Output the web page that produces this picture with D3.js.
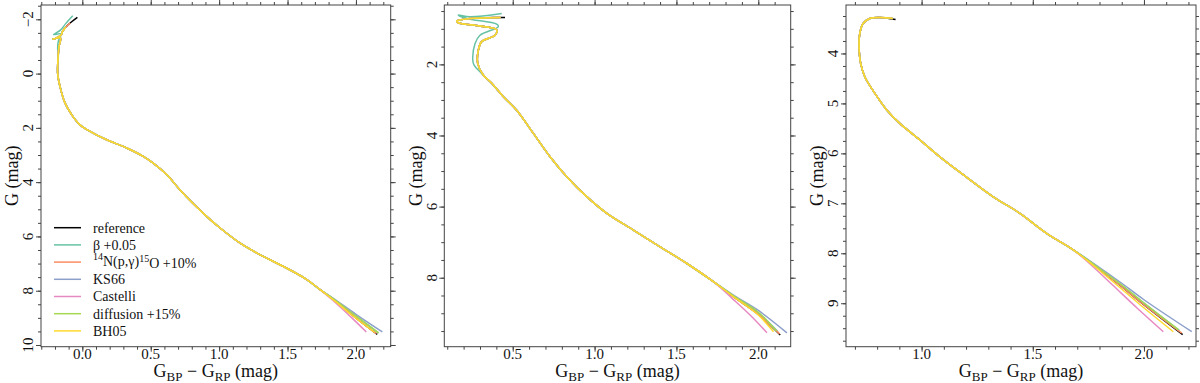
<!DOCTYPE html>
<html><head><meta charset="utf-8">
<script src="https://cdn.jsdelivr.net/npm/d3@7"></script>
<style>
html,body{margin:0;padding:0;background:#fff;}
svg{display:block;}
svg text{font-family:"Times New Roman",Times,"Liberation Serif","Nimbus Roman","DejaVu Serif","Noto Serif",serif;}
</style></head>
<body><svg id="chart" width="1200" height="383"></svg>
<script>
// ---------------- DATA ----------------
const seriesNames = ["reference","beta","n14","KS66","Castelli","diffusion","BH05"];
const seriesColors = ["#000000","#66c2a5","#fc8d62","#8da0cb","#e78ac3","#a6d854","#ffd92f"];

// Panel 1 (x: G_BP-G_RP, y: G)
const p1HeadRef = [[-0.036,-2.07],[-0.08,-1.9],[-0.12,-1.72],[-0.145,-1.55],[-0.155,-1.42],[-0.2,-1.29],[-0.215,-1.27],[-0.16,-1.31],[-0.17,-1.0]];
const p1HeadBeta = [[-0.07,-2.13],[-0.12,-1.85],[-0.16,-1.6],[-0.21,-1.44],[-0.155,-1.46],[-0.175,-1.2],[-0.18,-0.9]];
const p1HeadN14 = [[-0.088,-1.86],[-0.12,-1.72],[-0.145,-1.55],[-0.155,-1.42],[-0.2,-1.29],[-0.215,-1.27],[-0.16,-1.31],[-0.17,-1.0]];
const p1HeadOther = [[-0.12,-1.72],[-0.145,-1.55],[-0.155,-1.42],[-0.2,-1.29],[-0.215,-1.27],[-0.16,-1.31],[-0.17,-1.0]];
const p1Body = [[-0.175,-0.75],[-0.18,0.0],[-0.163,0.48],[-0.126,1.09],[-0.077,1.52],[-0.017,1.89],[0.056,2.13],[0.178,2.44],[0.324,2.74],[0.445,3.05],[0.518,3.30],[0.616,3.72],[0.713,4.28],[0.81,4.79],[0.908,5.26],[1.005,5.68],[1.151,6.24],[1.297,6.67],[1.467,7.10],[1.638,7.58],[1.735,7.95]];
const p1TailRef = [[1.835,8.32],[1.99,8.97],[2.156,9.61]];
const p1TailBeta = [[1.837,8.31],[2.0,8.93],[2.165,9.55]];
const p1TailN14 = [[1.835,8.32],[1.99,8.97],[2.15,9.58]];
const p1TailKS66 = [[1.84,8.30],[2.0,8.87],[2.193,9.52]];
const p1TailCastelli = [[1.83,8.35],[1.97,9.0],[2.076,9.52]];
const p1TailDiffusion = [[1.838,8.31],[2.0,8.93],[2.165,9.55]];
const p1TailBH05 = [[1.832,8.33],[1.978,8.93],[2.137,9.54]];

// Panel 2
const p2HeadRef = [[0.453,0.68],[0.402,0.68],[0.239,0.71],[0.158,0.78],[0.167,0.83],[0.3,0.92],[0.402,1.03],[0.392,1.18],[0.31,1.36],[0.29,1.6],[0.286,1.97],[0.32,2.3],[0.372,2.53],[0.443,2.91]];
const p2HeadBeta = [[0.433,0.57],[0.239,0.66],[0.167,0.61],[0.219,0.71],[0.402,0.87],[0.412,0.94],[0.3,1.18],[0.27,1.41],[0.256,1.88],[0.264,2.02],[0.3,2.21],[0.361,2.49],[0.443,2.91]];
const p2HeadOther = [[0.425,0.68],[0.239,0.71],[0.158,0.78],[0.167,0.83],[0.3,0.92],[0.402,1.03],[0.392,1.18],[0.31,1.36],[0.29,1.6],[0.286,1.97],[0.32,2.3],[0.372,2.53],[0.443,2.91]];
const p2Body = [[0.524,3.29],[0.626,3.94],[0.728,4.6],[0.83,5.16],[0.952,5.72],[1.075,6.19],[1.237,6.66],[1.4,7.13],[1.564,7.6],[1.726,8.11]];
const p2TailRef = [[1.849,8.54],[2.0,9.03],[2.134,9.61]];
const p2TailBeta = [[1.852,8.53],[2.0,8.99],[2.12,9.52]];
const p2TailN14 = [[1.849,8.54],[2.0,9.03],[2.13,9.58]];
const p2TailKS66 = [[1.855,8.51],[2.0,8.92],[2.175,9.55]];
const p2TailCastelli = [[1.84,8.58],[1.95,9.05],[2.053,9.55]];
const p2TailDiffusion = [[1.852,8.52],[2.0,8.97],[2.11,9.50]];
const p2TailBH05 = [[1.849,8.54],[2.0,9.05],[2.093,9.52]];

// Panel 3
const p3HeadRef = [[0.883,3.32],[0.812,3.28]];
const p3HeadOther = [[0.87,3.3],[0.812,3.28]];
const p3Body = [[0.767,3.3],[0.737,3.4],[0.722,3.6],[0.719,3.87],[0.726,4.2],[0.745,4.47],[0.79,4.8],[0.843,5.13],[0.902,5.4],[0.992,5.73],[1.082,6.07],[1.2,6.47],[1.322,6.87],[1.442,7.2],[1.562,7.6],[1.682,7.93]];
const p3TailRef = [[1.772,8.23],[1.892,8.64],[1.982,8.97],[2.174,9.63]];
const p3TailBeta = [[1.774,8.22],[1.895,8.62],[1.99,8.96],[2.16,9.55]];
const p3TailN14 = [[1.772,8.23],[1.892,8.64],[1.982,8.97],[2.17,9.60]];
const p3TailKS66 = [[1.776,8.21],[1.90,8.60],[2.0,8.93],[2.215,9.57]];
const p3TailCastelli = [[1.766,8.25],[1.86,8.64],[1.97,9.10],[2.087,9.57]];
const p3TailDiffusion = [[1.774,8.22],[1.895,8.62],[1.99,8.96],[2.154,9.53]];
const p3TailBH05 = [[1.771,8.24],[1.885,8.66],[1.98,9.02],[2.132,9.57]];

// Tick labels
const p1XTicks = [0.0,0.5,1.0,1.5,2.0];
const p1YTicks = [-2,0,2,4,6,8,10];
const p2XTicks = [0.5,1.0,1.5,2.0];
const p2YTicks = [2,4,6,8];
const p3XTicks = [1.0,1.5,2.0];
const p3YTicks = [4,5,6,7,8,9];

// -------------- ASSEMBLY --------------
const panelSeries = [
  [p1HeadRef.concat(p1Body,p1TailRef), p1HeadBeta.concat(p1Body,p1TailBeta), p1HeadN14.concat(p1Body,p1TailN14),
   p1HeadOther.concat(p1Body,p1TailKS66), p1HeadOther.concat(p1Body,p1TailCastelli), p1HeadOther.concat(p1Body,p1TailDiffusion), p1HeadOther.concat(p1Body,p1TailBH05)],
  [p2HeadRef.concat(p2Body,p2TailRef), p2HeadBeta.concat(p2Body,p2TailBeta), p2HeadOther.concat(p2Body,p2TailN14),
   p2HeadOther.concat(p2Body,p2TailKS66), p2HeadOther.concat(p2Body,p2TailCastelli), p2HeadOther.concat(p2Body,p2TailDiffusion), p2HeadOther.concat(p2Body,p2TailBH05)],
  [p3HeadRef.concat(p3Body,p3TailRef), p3HeadOther.concat(p3Body,p3TailBeta), p3HeadOther.concat(p3Body,p3TailN14),
   p3HeadOther.concat(p3Body,p3TailKS66), p3HeadOther.concat(p3Body,p3TailCastelli), p3HeadOther.concat(p3Body,p3TailDiffusion), p3HeadOther.concat(p3Body,p3TailBH05)]
];

const panels = [
  {box:[41,5,390.7,346.7], xd:[-0.302,2.254], yd:[-2.527,10.063], xt:p1XTicks, yt:p1YTicks, xminor:0.1, yminor:0.5, legend:true},
  {box:[444.3,5,790.7,346.7], xd:[0.082,2.198], yd:[0.33,9.94], xt:p2XTicks, yt:p2YTicks, xminor:0.1, yminor:0.5},
  {box:[846,5,1196,346.7], xd:[0.66,2.234], yd:[3.03,9.87], xt:p3XTicks, yt:p3YTicks, xminor:0.1, yminor:0.25}
];

const FONT = "'Times New Roman', Times, 'Liberation Serif', 'Nimbus Roman', 'DejaVu Serif', 'Noto Serif', serif";
const svg = d3.select("#chart");
const fmtY = v => (v<0?"\u2212":"") + Math.abs(v);

function minorVals(d, step){
  const out=[]; const s=Math.ceil(Math.min(d[0],d[1])/step-1e-9);
  for(let k=s; k*step<=Math.max(d[0],d[1])+1e-9; k++) out.push(+(k*step).toFixed(4));
  return out;
}

panels.forEach((p,i)=>{
  const [x0,y0,x1,y1]=p.box;
  const x=d3.scaleLinear().domain(p.xd).range([x0,x1]);
  const y=d3.scaleLinear().domain(p.yd).range([y0,y1]);
  const g=svg.append("g");
  const xm=minorVals(p.xd,p.xminor), ym=minorVals(p.yd,p.yminor);
  const tickStyle = sel => { sel.select(".domain").remove(); sel.selectAll("line").attr("stroke","#444").attr("stroke-width",1); sel.selectAll("text").remove(); sel.attr("font-family",null); };
  g.append("g").attr("transform",`translate(0,${y1})`).call(d3.axisBottom(x).tickValues(xm).tickSize(3)).call(tickStyle);
  g.append("g").attr("transform",`translate(0,${y1})`).call(d3.axisBottom(x).tickValues(p.xt).tickSize(5)).call(tickStyle);
  g.append("g").attr("transform",`translate(0,${y0})`).call(d3.axisTop(x).tickValues(xm).tickSize(3)).call(tickStyle);
  g.append("g").attr("transform",`translate(0,${y0})`).call(d3.axisTop(x).tickValues(p.xt).tickSize(5)).call(tickStyle);
  g.append("g").attr("transform",`translate(${x0},0)`).call(d3.axisLeft(y).tickValues(ym).tickSize(3)).call(tickStyle);
  g.append("g").attr("transform",`translate(${x0},0)`).call(d3.axisLeft(y).tickValues(p.yt).tickSize(5)).call(tickStyle);
  g.append("g").attr("transform",`translate(${x1},0)`).call(d3.axisRight(y).tickValues(ym).tickSize(3)).call(tickStyle);
  g.append("g").attr("transform",`translate(${x1},0)`).call(d3.axisRight(y).tickValues(p.yt).tickSize(5)).call(tickStyle);

  // lines
  const clipId="clip"+i;
  svg.append("clipPath").attr("id",clipId).append("rect").attr("x",x0).attr("y",y0).attr("width",x1-x0).attr("height",y1-y0);
  const line=d3.line().x(d=>x(d[0])).y(d=>y(d[1])).curve(d3.curveCatmullRom.alpha(0.5));
  const lg=g.append("g").attr("clip-path",`url(#${clipId})`);
  panelSeries[i].forEach((s,k)=>{
    lg.append("path").attr("d",line(s)).attr("fill","none").attr("stroke",seriesColors[k])
      .attr("stroke-width",1.5).attr("stroke-linejoin","round").attr("stroke-linecap","butt");
  });

  // frame
  g.append("rect").attr("x",x0).attr("y",y0).attr("width",x1-x0).attr("height",y1-y0)
    .attr("fill","none").attr("stroke","#444").attr("stroke-width",1);

  // tick labels
  g.selectAll(".xl").data(p.xt).enter().append("text")
    .attr("x",d=>x(d)).attr("y",359).attr("text-anchor","middle").attr("font-size",15).attr("fill","#111")
    .style("font-family",FONT).text(d=>d.toFixed(1));
  g.selectAll(".yl").data(p.yt).enter().append("text")
    .attr("transform",d=>`translate(${x0-13},${y(d)}) rotate(-90)`).attr("dy","0.35em")
    .attr("text-anchor","middle").attr("font-size",15).attr("fill","#111").style("font-family",FONT).text(fmtY);

  // axis titles
  const xt=g.append("text").attr("x",(x0+x1)/2).attr("y",377).attr("text-anchor","middle").attr("font-size",18).attr("fill","#111").style("font-family",FONT);
  xt.append("tspan").text("G");
  xt.append("tspan").attr("font-size",13).attr("dy",4).text("BP");
  xt.append("tspan").attr("dy",-4).text(" \u2212 G");
  xt.append("tspan").attr("font-size",13).attr("dy",4).text("RP");
  xt.append("tspan").attr("dy",-4).text(" (mag)");
  g.append("text").attr("transform",`translate(${x0-29},${(y0+y1)/2}) rotate(-90)`).attr("dy","0.35em")
    .attr("text-anchor","middle").attr("font-size",18).attr("fill","#111").style("font-family",FONT).text("G (mag)");

  if(p.legend){
    const labels=[["reference"],["\u03b2 +0.05"],null,["KS66"],["Castelli"],["diffusion +15%"],["BH05"]];
    seriesNames.forEach((n,k)=>{
      const ly=227.7+k*17.2;
      g.append("line").attr("x1",54).attr("x2",81).attr("y1",ly).attr("y2",ly).attr("stroke",seriesColors[k]).attr("stroke-width",1.5);
      const t=g.append("text").attr("x",93).attr("y",ly).attr("dy","0.35em").attr("font-size",14).attr("fill","#111").style("font-family",FONT);
      if(k===2){
        t.append("tspan").attr("font-size",10).attr("dy","-0.2em").text("14");
        t.append("tspan").attr("dy","0.45em").text("N(p,\u03b3)");
        t.append("tspan").attr("font-size",10).attr("dy","-0.45em").text("15");
        t.append("tspan").attr("dy","0.45em").text("O +10%");
      } else t.text(labels[k][0]);
    });
  }
});
</script></body></html>
